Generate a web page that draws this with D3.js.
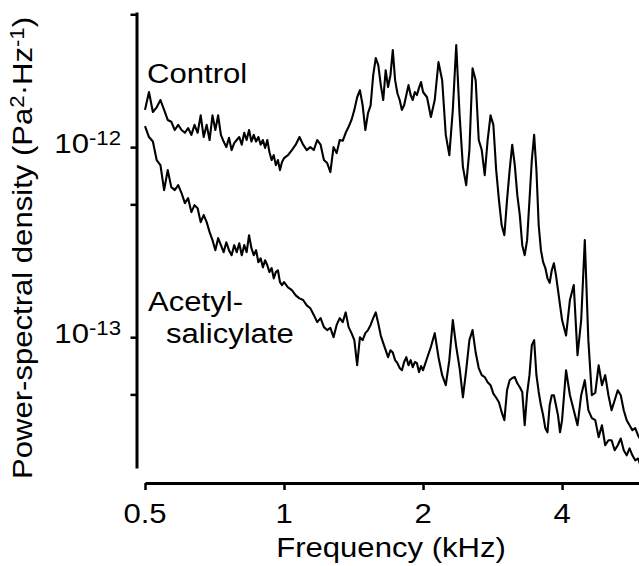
<!DOCTYPE html>
<html>
<head>
<meta charset="utf-8">
<script src="https://cdn.jsdelivr.net/npm/d3@7"></script>
<style>
  html, body { margin: 0; padding: 0; background: #fff; }
  svg { display: block; }
</style>
</head>
<body>
<script>
// ---------------- DATA ----------------
// Frequency bins (kHz)
const freqKHz = [
  0.50,0.51,0.52,0.53,0.54,0.55,0.56,0.57,0.58,0.59,0.60,0.61,0.62,0.63,0.64,0.65,0.66,0.67,0.68,0.69,
  0.70,0.71,0.72,0.73,0.74,0.75,0.76,0.77,0.78,0.79,0.80,0.81,0.82,0.83,0.84,0.85,0.86,0.87,0.88,0.89,
  0.90,0.91,0.92,0.93,0.94,0.95,0.96,0.97,0.98,0.99,1.00,
  1.02,1.04,1.06,1.08,1.10,1.12,1.14,1.16,1.18,1.20,1.22,1.24,1.26,1.28,1.30,1.32,1.34,1.36,1.38,1.40,
  1.42,1.44,1.46,1.48,1.50,1.52,1.54,1.56,1.58,1.60,1.62,1.64,1.66,1.68,1.70,1.72,1.74,1.76,1.78,1.80,
  1.82,1.84,1.86,1.88,1.90,1.92,1.94,1.96,1.98,2.00,
  2.04,2.08,2.12,2.16,2.20,2.24,2.28,2.32,2.36,2.40,2.44,2.48,2.52,2.56,2.60,2.64,2.68,2.72,2.76,2.80,
  2.84,2.88,2.92,2.96,3.00,3.04,3.08,3.12,3.16,3.20,3.24,3.28,3.32,3.36,3.40,3.44,3.48,3.52,3.56,3.60,
  3.64,3.68,3.72,3.76,3.80,3.84,3.88,3.92,3.96,4.00,
  4.08,4.16,4.24,4.32,4.40,4.48,4.56,4.64,4.72,4.80,4.88,4.96,5.04,5.12,5.20,5.28,5.36,5.44,5.52,5.60,
  5.68,5.76,5.84,5.92
];

// Power-spectral density, in units of 1e-13 Pa^2/Hz
const controlPsd = [
  15.7,19.5,15.3,16.2,17.7,15.7,13.9,13.6,12.3,13.1,12.3,11.9,12.6,11.6,13.1,11.9,14.7,11.3,13.1,10.9,
  14.7,12.3,14.7,11.6,10.7,10.0,11.2,9.65,10.5,10.9,11.3,10.3,11.9,10.9,12.3,10.7,11.6,10.7,11.3,10.3,
  10.9,9.9,10.9,9.4,8.55,9.08,8.04,8.55,7.57,8.35,8.75,
  9.08,9.65,10.3,11.3,10.3,9.65,10.0,9.65,10.9,10.3,8.55,8.25,7.38,10.0,9.3,10.9,10.8,11.9,12.8,13.9,
  15.7,18.3,19.95,16.6,12.3,15.1,16.6,23.9,29.4,27.0,21.2,17.7,25.4,20.7,23.9,32.4,22.5,19.2,17.7,15.7,
  16.6,18.8,21.2,18.8,17.7,19.5,18.8,20.5,22.0,19.5,
  18.3,14.4,17.7,28.0,22.5,11.6,9.08,15.7,34.4,14.7,7.85,6.31,9.65,26.0,22.5,10.9,9.65,7.12,10.9,14.7,
  13.1,7.57,5.26,3.88,3.44,5.26,7.57,10.3,8.04,5.59,4.39,3.05,2.70,3.24,5.26,8.55,11.6,7.57,3.88,2.87,
  2.48,2.31,2.04,1.93,2.25,2.45,2.12,1.77,1.47,1.23,
  1.02,1.57,1.88,0.804,1.23,3.24,0.965,0.495,0.51,0.712,0.559,0.631,0.495,0.413,0.466,0.526,0.495,0.413,0.366,0.344,
  0.324,0.332,0.305,0.287
];

const acetylPsd = [
  12.9,11.3,10.7,8.55,8.04,5.94,7.57,6.16,5.94,6.31,5.73,5.07,5.39,4.55,4.95,4.77,4.03,4.39,4.03,3.57,
  3.24,2.87,3.32,3.05,2.80,3.16,2.87,2.70,3.05,2.80,3.12,2.70,3.05,2.80,3.44,2.94,2.70,2.87,2.48,2.60,
  2.33,2.54,2.39,2.20,2.31,2.04,2.20,2.25,1.95,1.88,1.95,
  1.83,1.77,1.66,1.60,1.57,1.47,1.42,1.31,1.20,1.26,1.13,1.09,1.12,1.00,1.16,1.26,1.20,1.35,1.13,1.05,
  0.965,0.712,1.00,0.965,1.05,1.09,1.16,1.26,1.35,1.18,1.02,0.93,0.854,0.785,0.854,0.83,0.757,0.73,0.688,0.670,
  0.74,0.785,0.712,0.757,0.695,0.74,0.73,0.655,0.705,0.670,
  0.775,0.89,1.05,0.785,0.631,0.559,0.757,1.23,0.89,0.688,0.483,0.670,0.965,1.09,0.83,0.688,0.631,0.617,0.58,0.559,
  0.505,0.48,0.455,0.403,0.366,0.526,0.594,0.61,0.617,0.572,0.545,0.515,0.344,0.505,0.631,0.908,0.965,0.631,0.515,0.438,
  0.388,0.332,0.316,0.438,0.495,0.495,0.438,0.388,0.316,0.366,
  0.670,0.495,0.413,0.344,0.495,0.594,0.413,0.375,0.366,0.298,0.344,0.270,0.287,0.287,0.254,0.270,0.293,0.254,0.239,0.26,
  0.239,0.225,0.23,0.21
];
const psdUnit = 1e-13;

const xTickValues = [0.5, 1, 2, 4];
const xTickLabels = ["0.5", "1", "2", "4"];
const yTickValues = [5e-12, 1e-12, 5e-13, 1e-13, 5e-14];
const yLabelValues = [1e-12, 1e-13];
const yLabelExponents = ["-12", "-13"];

const seriesLabels = ["Control", "Acetyl-", "salicylate"];
const xTitle = "Frequency (kHz)";

// ---------------- CHART ----------------
const W = 639, H = 566;
const FONT = "'Liberation Sans', Arial, Helvetica, sans-serif";
const SX = 1.11; // horizontal stretch of lettering

const svg = d3.select("body").append("svg")
  .attr("width", W).attr("height", H)
  .style("background", "#fff");

const x = d3.scaleLog().domain([0.5, 5.87]).range([145, 639]);
const y = d3.scaleLog().domain([2.05e-14, 5.14e-12]).range([468, 12]);

svg.append("defs").append("clipPath").attr("id", "plotclip")
  .append("rect").attr("x", 138).attr("y", 0).attr("width", 501).attr("height", 478);

const line = d3.line()
  .x((d, i) => x(freqKHz[i]))
  .y(d => y(d * psdUnit))
  .curve(d3.curveLinear);

const plot = svg.append("g").attr("clip-path", "url(#plotclip)");
[acetylPsd, controlPsd].forEach(series => {
  plot.append("path")
    .datum(series)
    .attr("d", line)
    .attr("fill", "none")
    .attr("stroke", "#000")
    .attr("stroke-width", 2.1)
    .attr("stroke-linejoin", "round");
});

// X axis
const gx = svg.append("g")
  .attr("transform", "translate(0,483)")
  .call(d3.axisBottom(x).tickValues(xTickValues).tickFormat("").tickSize(7).tickSizeOuter(0));
gx.select(".domain").attr("stroke", "#000").attr("stroke-width", 3);
gx.selectAll(".tick line").attr("stroke", "#000").attr("stroke-width", 2.5);

xTickValues.forEach((v, i) => {
  svg.append("g")
    .attr("transform", `translate(${x(v)},523) scale(${SX},1)`)
    .append("text")
    .attr("text-anchor", "middle")
    .attr("font-family", FONT)
    .attr("font-size", 28)
    .attr("fill", "#000")
    .text(xTickLabels[i]);
});

// Y axis
const gy = svg.append("g")
  .attr("transform", "translate(136.5,0)")
  .call(d3.axisLeft(y).tickValues(yTickValues).tickFormat("").tickSize(6).tickSizeOuter(0));
gy.select(".domain").attr("stroke", "#000").attr("stroke-width", 3);
gy.selectAll(".tick line").attr("stroke", "#000").attr("stroke-width", 2.5);

yLabelValues.forEach((v, i) => {
  const t = svg.append("g")
    .attr("transform", `translate(121,${y(v) + 5.5}) scale(${SX},1)`)
    .append("text")
    .attr("text-anchor", "end")
    .attr("font-family", FONT)
    .attr("font-size", 28)
    .attr("fill", "#000");
  t.append("tspan").text("10");
  t.append("tspan").attr("font-size", 20).attr("dy", -8).text(yLabelExponents[i]);
});

// Axis titles
svg.append("g")
  .attr("transform", `translate(391,557) scale(${SX},1)`)
  .append("text")
  .attr("text-anchor", "middle")
  .attr("font-family", FONT)
  .attr("font-size", 28)
  .attr("fill", "#000")
  .text(xTitle);

const yt = svg.append("g")
  .attr("transform", `translate(32,248) rotate(-90) scale(${SX},1)`)
  .append("text")
  .attr("text-anchor", "middle")
  .attr("font-family", FONT)
  .attr("font-size", 28)
  .attr("fill", "#000");
yt.append("tspan").text("Power-spectral density (Pa");
yt.append("tspan").attr("font-size", 20).attr("dy", -8).text("2");
yt.append("tspan").attr("dy", 8).text("·Hz");
yt.append("tspan").attr("font-size", 20).attr("dy", -8).text("-1");
yt.append("tspan").attr("dy", 8).text(")");

// Series labels
const labelPos = [[147, 83], [148, 311], [166, 343]];
seriesLabels.forEach((s, i) => {
  svg.append("g")
    .attr("transform", `translate(${labelPos[i][0]},${labelPos[i][1]}) scale(${SX},1)`)
    .append("text")
    .attr("text-anchor", "start")
    .attr("font-family", FONT)
    .attr("font-size", 28)
    .attr("fill", "#000")
    .text(s);
});
</script>
</body>
</html>
